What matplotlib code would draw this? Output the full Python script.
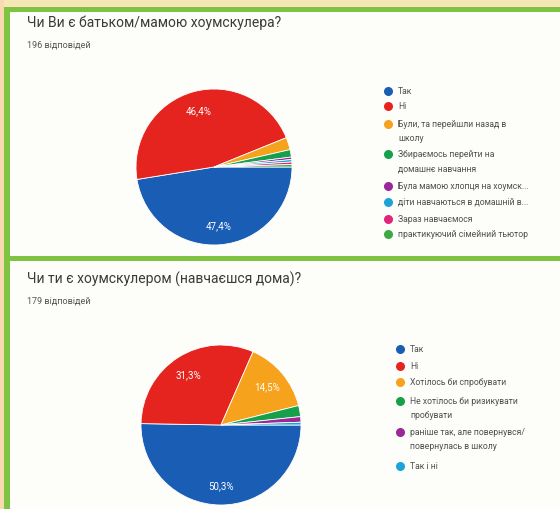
import matplotlib.pyplot as plt
from matplotlib.patches import Rectangle

plt.rcParams['font.family'] = ['Roboto', 'DejaVu Sans']

# --- дані ---
q1_title = "Чи Ви є батьком/мамою хоумскулера?"
q1_total = "196 відповідей"
q1_labels = ["Так", "Ні", "Були, та перейшли назад в\nшколу",
             "Збираємось перейти на\nдомашнє навчання",
             "Була мамою хлопця на хоумск...", "діти навчаються в домашній в...",
             "Зараз навчаємося", "практикуючий сімейний тьютор"]
q1_counts = [93, 91, 5, 3, 1, 1, 1, 1]
q1_colors = ["#1a5db5", "#e6241f", "#f6a21c", "#17a04a",
             "#9a2896", "#1ca4d8", "#e3247a", "#3ea843"]

q2_title = "Чи ти є хоумскулером (навчаєшся дома)?"
q2_total = "179 відповідей"
q2_labels = ["Так", "Ні", "Хотілось би спробувати",
             "Не хотілось би ризикувати\nпробувати",
             "раніше так, але повернувся/\nповернулась в школу", "Так і ні"]
q2_counts = [90, 56, 26, 4, 2, 1]
q2_colors = ["#1a5db5", "#e6241f", "#f6a21c", "#17a04a", "#9a2896", "#1ca4d8"]

W, H = 560, 510
fig = plt.figure(figsize=(W / 100, H / 100), dpi=100, facecolor="#fdfdfa")

# фон і рамки в піксельних координатах
bg = fig.add_axes([0, 0, 1, 1])
bg.set_xlim(0, W)
bg.set_ylim(H, 0)
bg.axis('off')
bg.add_patch(Rectangle((0, 0), W, 8, color="#f5e8b6", lw=0))
bg.add_patch(Rectangle((0, 0), 4, H, color="#f7dab0", lw=0))
bg.add_patch(Rectangle((4, 8), W, 5, color="#80c342", lw=0))
bg.add_patch(Rectangle((4, 8), 6, H, color="#80c342", lw=0))
bg.add_patch(Rectangle((4, 257), W, 5, color="#80c342", lw=0))


def pct_label(p):
    return f"{p:.1f}%".replace('.', ',') if p >= 5 else ""


def draw_block(title, total, labels, counts, colors, ty, cx, cy, r,
               lx, ly_list, title_size):
    bg.text(27, ty, title, fontsize=title_size, color="#3a3a3a", va='center')
    bg.text(27, ty + 22, total, fontsize=6.5, color="#555555", va='center')

    ax = fig.add_axes([(cx - r) / W, (H - cy - r) / H, 2 * r / W, 2 * r / H])
    wedges, _, autotexts = ax.pie(counts, colors=colors, startangle=0,
                                  counterclock=False, autopct=pct_label,
                                  pctdistance=0.75,
                                  wedgeprops=dict(edgecolor='white', linewidth=0.6))
    for t in autotexts:
        t.set_color('white')
        t.set_fontsize(7)
    ax.set_xlim(-1, 1)
    ax.set_ylim(-1, 1)
    ax.set_aspect('auto')

    for lab, col, ly in zip(labels, colors, ly_list):
        bg.plot(lx, ly, 'o', color=col, markersize=6.5, mec='none')
        bg.text(lx + 10, ly - 5, lab, fontsize=6.2, color="#505050",
                va='top', linespacing=1.75)


draw_block(q1_title, q1_total, q1_labels, q1_counts, q1_colors,
           23, 214, 168, 78, 388, [92, 107, 125, 155, 187, 203, 220, 235], 10)
draw_block(q2_title, q2_total, q2_labels, q2_counts, q2_colors,
           279, 221, 426, 80, 400, [350, 367, 383, 402, 433, 467], 10)

fig.savefig("out.png", dpi=100, facecolor=fig.get_facecolor())
